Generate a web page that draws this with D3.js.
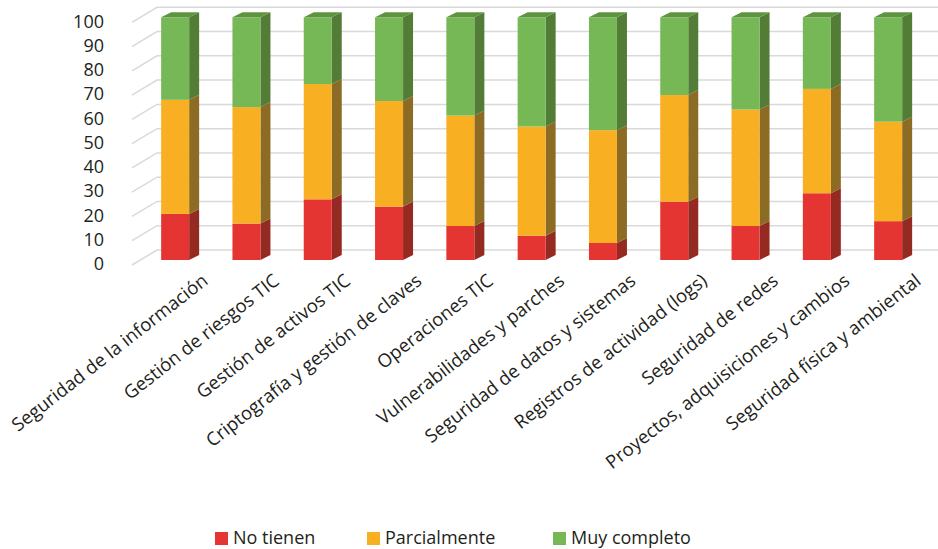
<!DOCTYPE html>
<html>
<head>
<meta charset="utf-8">
<script src="https://cdn.jsdelivr.net/npm/d3@7"></script>
<style>
  body { margin: 0; background: #fff; }
  svg text { font-family: "Open Sans", sans-serif; fill: #231f20; }
</style>
</head>
<body>
<div id="chart"></div>
<script>
// categories and series (percent of each category)
const categories = [
  "Seguridad de la información",
  "Gestión de riesgos TIC",
  "Gestión de activos TIC",
  "Criptografía y gestión de claves",
  "Operaciones TIC",
  "Vulnerabilidades y parches",
  "Seguridad de datos y sistemas",
  "Registros de actividad (logs)",
  "Seguridad de redes",
  "Proyectos, adquisiciones y cambios",
  "Seguridad física y ambiental"
];
const noTienen     = [19, 15, 25, 22, 14, 10, 7, 24, 14, 27.5, 16];
const parcialmente = [47, 48, 47.5, 43.5, 45.5, 45, 46.5, 44, 48, 43, 41];
const muyCompleto  = [34, 37, 27.5, 34.5, 40.5, 45, 46.5, 32, 38, 29.5, 43];
const seriesNames = ["No tienen", "Parcialmente", "Muy completo"];
const yTicks = [0, 10, 20, 30, 40, 50, 60, 70, 80, 90, 100];

const width = 938, height = 549;
const front = ["#e53532", "#f8af22", "#76b756"];
const side  = ["#952a23", "#8c6c25", "#537c37"];
const topC  = ["#b22a26", "#c08a1c", "#5e9440"];
const depthX = 10, depthY = -5;   // bar depth offset
const wallX = 25, wallY = -15;    // side wall offset

const svg = d3.select("#chart").append("svg")
  .attr("width", width)
  .attr("height", height);

const x = d3.scaleBand()
  .domain(categories)
  .range([139.5, 139.5 + 71.3 * categories.length]);
const barW = 28;

const y = d3.scaleLinear()
  .domain([0, 100])
  .range([260, 17.3]);

// gridlines (side wall diagonal + back wall)
const grid = svg.append("g").attr("stroke", "#d9d9d9").attr("stroke-width", 1.5).attr("fill", "none");
yTicks.forEach(v => {
  const yb = y(v) - 10;
  grid.append("path")
    .attr("d", `M132,${yb - wallY}L157,${yb}L${width},${yb}`);
});

// y tick labels
svg.append("g").selectAll("text")
  .data(yTicks)
  .join("text")
  .attr("x", 104)
  .attr("y", d => y(d) + 4)
  .attr("dy", "0.35em")
  .attr("text-anchor", "end")
  .style("font-size", "18px")
  .text(d => d);

// stack the data
const rows = categories.map((c, i) => ({ cat: c, a: noTienen[i], b: parcialmente[i], c2: muyCompleto[i] }));
const stacked = d3.stack().keys(["a", "b", "c2"])(rows);

const bars = svg.append("g");
stacked.forEach((layer, k) => {
  const g = bars.append("g");
  layer.forEach(d => {
    const x0 = x(d.data.cat) + (x.bandwidth() - barW) / 2;
    const x1 = x0 + barW;
    const yt = y(d[1]), yb = y(d[0]);
    // side face
    g.append("path")
      .attr("d", `M${x1},${yt}L${x1 + depthX},${yt + depthY}L${x1 + depthX},${yb + depthY}L${x1},${yb}Z`)
      .attr("fill", side[k]);
    // front face
    g.append("rect")
      .attr("x", x0).attr("y", yt)
      .attr("width", barW).attr("height", yb - yt)
      .attr("fill", front[k]);
    // top face only for the last segment
    if (k === stacked.length - 1) {
      g.append("path")
        .attr("d", `M${x0},${yt}L${x0 + depthX},${yt + depthY}L${x1 + depthX},${yt + depthY}L${x1},${yt}Z`)
        .attr("fill", topC[k]);
    }
  });
});

// category labels
svg.append("g").selectAll("text")
  .data(categories)
  .join("text")
  .attr("transform", d => `translate(${x(d) + x.bandwidth() / 2 + 34},283) rotate(-38)`)
  .attr("text-anchor", "end")
  .style("font-size", "18.5px")
  .text(d => d);

// legend
const legendX = [215, 367, 553];
const legend = svg.append("g");
seriesNames.forEach((name, i) => {
  legend.append("rect")
    .attr("x", legendX[i]).attr("y", 532)
    .attr("width", 13).attr("height", 13)
    .attr("fill", front[i]);
  legend.append("text")
    .attr("x", legendX[i] + 18).attr("y", 544)
    .style("font-size", "18px")
    .text(name);
});
</script>
</body>
</html>
